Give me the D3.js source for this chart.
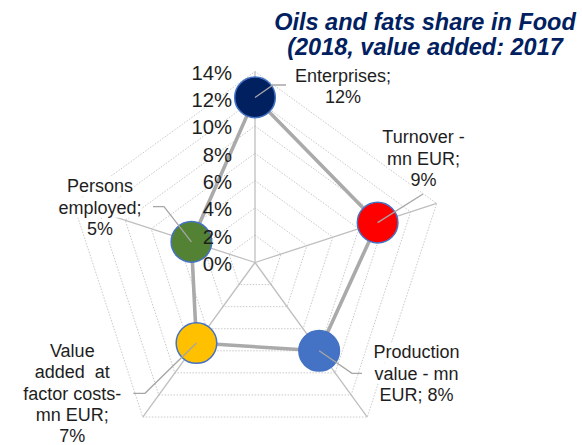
<!DOCTYPE html>
<html>
<head>
<meta charset="utf-8">
<script src="https://cdn.jsdelivr.net/npm/d3@7"></script>
<style>
  html, body { margin: 0; padding: 0; background: #fff; }
  svg { display: block; font-family: Arial, "Liberation Sans", sans-serif; }
  text { white-space: pre; }
</style>
</head>
<body>
<svg id="chart" width="582" height="445"></svg>
<script>
// Oils and fats: share of the food industry, per indicator (%)
const categories = [
  "Enterprises",
  "Turnover - mn EUR",
  "Production value - mn EUR",
  "Value added  at factor costs- mn EUR",
  "Persons employed"
];
const shares = [12.1, 9.45, 8.0, 7.3, 4.9];
const markerColors = ["#002060", "#ff0000", "#4472c4", "#ffc000", "#548235"];
const tickValues = [0, 2, 4, 6, 8, 10, 12, 14];
const titleLines = ["Oils and fats share in Food", "(2018, value added: 2017"];

// label layout: words per line, block centre / first baseline, leader line bends
const labelWordsPerLine = [[1, 1], [2, 2, 1], [1, 3, 2], [1, 3, 2, 2, 1], [1, 1, 1]];
const labelAnchors = [[343, 82], [423.5, 143.3], [416.5, 358.3], [72.3, 356.7], [100, 192.3]];
const leaderBends = [
  [[273, 85], [286, 85]],
  [[423, 194]],
  [[352, 373.3], [362, 373.3]],
  [[145, 393.3], [133.3, 393.3]],
  [[164, 206.7], [153, 206.7]]
];

const svg = d3.select("#chart");
const cx = 255, cy = 262.5, R = 191;
const n = categories.length;
const r = d3.scaleLinear().domain([0, 14]).range([0, R]);
const angle = d3.scaleLinear().domain([0, n]).range([0, 2 * Math.PI]);
const pct = v => d3.format(".0f")(v) + "%";
const pos = (i, v) => [cx + r(v) * Math.sin(angle(i)), cy - r(v) * Math.cos(angle(i))];

const plot = svg.append("g").attr("transform", `translate(${cx},${cy})`);
const ring = d3.lineRadial()
  .angle((d, i) => angle(i))
  .radius(d => r(d))
  .curve(d3.curveLinearClosed);

// dotted grid rings
plot.selectAll("path.ring")
  .data(tickValues.filter(t => t > 0))
  .join("path")
  .attr("class", "ring")
  .attr("d", t => ring(d3.range(n).map(() => t)))
  .attr("fill", "none")
  .attr("stroke", "#c9c9c9")
  .attr("stroke-width", 1)
  .attr("stroke-dasharray", "1.5,1.5");

// spokes
plot.selectAll("line.spoke")
  .data(d3.range(n))
  .join("line")
  .attr("class", "spoke")
  .attr("x1", 0).attr("y1", 0)
  .attr("x2", i => r(14) * Math.sin(angle(i)))
  .attr("y2", i => -r(14) * Math.cos(angle(i)))
  .attr("stroke", "#bfbfbf")
  .attr("stroke-width", 1.3);

// series outline
plot.append("path")
  .attr("d", ring(shares))
  .attr("fill", "none")
  .attr("stroke", "#aaaaaa")
  .attr("stroke-width", 3.6)
  .attr("stroke-linejoin", "round");

// markers
svg.selectAll("circle.marker")
  .data(shares)
  .join("circle")
  .attr("class", "marker")
  .attr("cx", (v, i) => pos(i, v)[0])
  .attr("cy", (v, i) => pos(i, v)[1])
  .attr("r", 20.3)
  .attr("fill", (v, i) => markerColors[i])
  .attr("stroke", "#4472c4")
  .attr("stroke-width", 1.5);

// leader lines
svg.selectAll("path.leader")
  .data(shares)
  .join("path")
  .attr("class", "leader")
  .attr("d", (v, i) => d3.line()([pos(i, v), ...leaderBends[i]]))
  .attr("fill", "none")
  .attr("stroke", "#a6a6a6")
  .attr("stroke-width", 1.3);

// data labels: "<category>; <value>" wrapped into lines, on a white backing
const lineH = 21.4;
shares.forEach((v, i) => {
  const words = `${categories[i]}; ${pct(v)}`.split(" ");
  const lines = [];
  let k = 0;
  labelWordsPerLine[i].forEach(c => { lines.push(words.slice(k, k + c).join(" ")); k += c; });
  const g = svg.append("g").attr("class", "data-label");
  lines.forEach((t, j) => {
    const txt = g.append("text")
      .attr("x", labelAnchors[i][0])
      .attr("y", labelAnchors[i][1] + j * lineH)
      .attr("text-anchor", "middle")
      .attr("font-size", 18)
      .attr("fill", "#1e1e1e")
      .text(t);
    const b = txt.node().getBBox();
    g.insert("rect", "text")
      .attr("x", b.x).attr("y", b.y)
      .attr("width", b.width).attr("height", b.height)
      .attr("fill", "#fff");
  });
});

// radial tick labels
svg.selectAll("text.tick")
  .data(tickValues)
  .join("text")
  .attr("class", "tick")
  .attr("x", 232)
  .attr("y", t => cy - r(t) + 8.3)
  .attr("text-anchor", "end")
  .attr("font-size", 20.3)
  .attr("fill", "#1e1e1e")
  .text(t => t + "%");

// title
svg.selectAll("text.title")
  .data(titleLines)
  .join("text")
  .attr("class", "title")
  .attr("x", 425)
  .attr("y", (d, i) => 29.5 + i * 25.6)
  .attr("text-anchor", "middle")
  .attr("font-size", 23.5)
  .attr("font-weight", "bold")
  .attr("font-style", "italic")
  .attr("fill", "#002060")
  .text(d => d);
</script>
</body>
</html>
